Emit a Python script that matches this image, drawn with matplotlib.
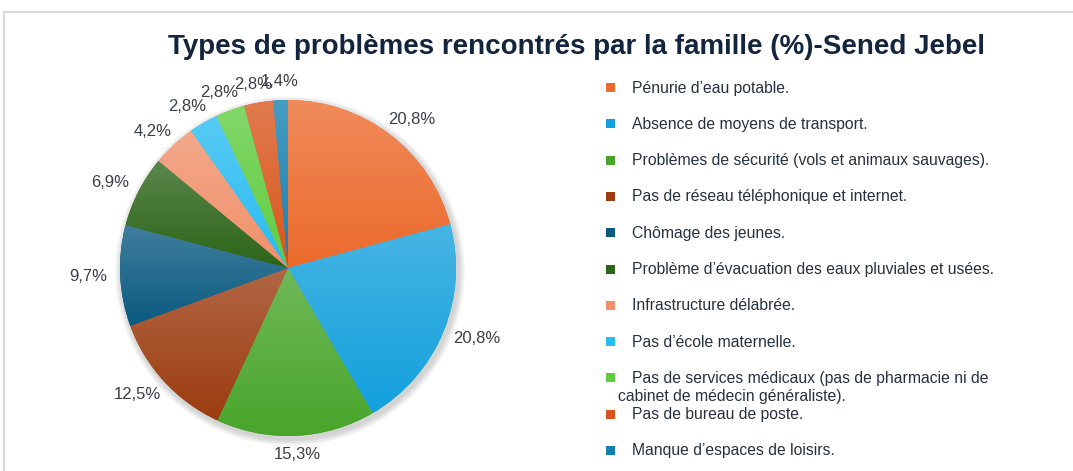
import matplotlib.pyplot as plt
import matplotlib.colors as mcolors
from matplotlib.patches import Rectangle, Circle
import numpy as np

plt.rcParams['font.family'] = ['Liberation Sans', 'DejaVu Sans']

categories = [
    "Pénurie d’eau potable.",
    "Absence de moyens de transport.",
    "Problèmes de sécurité (vols et animaux sauvages).",
    "Pas de réseau téléphonique et internet.",
    "Chômage des jeunes.",
    "Problème d’évacuation des eaux pluviales et usées.",
    "Infrastructure délabrée.",
    "Pas d’école maternelle.",
    "Pas de services médicaux (pas de pharmacie ni de\ncabinet de médecin généraliste).",
    "Pas de bureau de poste.",
    "Manque d’espaces de loisirs.",
]
values = [20.8, 20.8, 15.3, 12.5, 9.7, 6.9, 4.2, 2.8, 2.8, 2.8, 1.4]
colors = ["#EC6A2C", "#12A0DC", "#48A52A", "#9C3C10", "#0A5A80", "#2C6418",
          "#F0906A", "#28BCF0", "#60CC40", "#D8561C", "#1480B0"]

W, H = 1073, 471
fig = plt.figure(figsize=(W / 100, H / 100), dpi=100)

# frame
fig.patches.append(Rectangle((4 / W, -0.1), 1.2, (H - 12) / H + 0.1, transform=fig.transFigure,
                             fill=False, edgecolor="#D9D9D9", linewidth=1.5))

fig.text(577 / W, 1 - 47 / H, "Types de problèmes rencontrés par la famille (%)-Sened Jebel",
         ha="center", va="center", fontsize=20, fontweight="bold", color="#13243F")

# pie axes
cx, cy, R = 288, 268, 168
lim = 1.3
size = 2 * lim * R
ax = fig.add_axes([(cx - size / 2) / W, (H - cy - size / 2) / H, size / W, size / H])

# soft shadow
for k in range(4):
    ax.add_patch(Circle((0.012, -0.018), 1.0 + 0.01 * (k + 1), color="#000000", alpha=0.045, lw=0, zorder=0))

wedges, _ = ax.pie(values, colors=colors, startangle=90, counterclock=False,
                   wedgeprops=dict(linewidth=0, zorder=1))

for w, c in zip(wedges, colors):
    base = np.array(mcolors.to_rgb(c))
    top = base + (1 - base) * 0.22
    grad = np.linspace(0, 1, 64)[:, None, None]
    img = top * (1 - grad) + base * grad
    bb = w.get_path().get_extents(w.get_patch_transform())
    im = ax.imshow(np.repeat(img, 2, axis=1), extent=[bb.x0, bb.x1, bb.y0, bb.y1],
                   origin="upper", aspect="auto", zorder=2, interpolation="bilinear")
    im.set_clip_path(w)

ax.set_xlim(-lim, lim)
ax.set_ylim(-lim, lim)
ax.set_aspect("equal")
ax.axis("off")

# percentage labels: box edge kept at a fixed gap outside the pie
renderer = fig.canvas.get_renderer()
gap = 0.075
for w, v in zip(wedges, values):
    mid = np.deg2rad((w.theta1 + w.theta2) / 2)
    t = ax.text(0, 0, f"{v:.1f}%".replace(".", ","), ha="center", va="center",
                fontsize=12, color="#3A3F48")
    ext = t.get_window_extent(renderer)
    hw = ext.width / 2 / R
    hh = ext.height / 2 / R * 0.8
    t.set_position(((1 + gap) * np.cos(mid) + hw * np.cos(mid),
                    (1 + gap) * np.sin(mid) + hh * np.sin(mid)))

# legend
lx, ly0, step = 610, 88, 36.3
for i, (lab, c) in enumerate(zip(categories, colors)):
    y = ly0 + i * step
    fig.patches.append(Rectangle(((lx - 4) / W, 1 - (y + 4) / H), 9 / W, 9 / H,
                                 transform=fig.transFigure, facecolor=c, edgecolor="none"))
    if "\n" in lab:
        first, second = lab.split("\n")
        fig.text(632 / W, 1 - y / H, first, ha="left", va="center", fontsize=11.3, color="#27323F")
        fig.text(618 / W, 1 - (y + 18) / H, second, ha="left", va="center", fontsize=11.3, color="#27323F")
    else:
        fig.text(632 / W, 1 - y / H, lab, ha="left", va="center", fontsize=11.3, color="#27323F")

fig.savefig("out.png", dpi=100)
